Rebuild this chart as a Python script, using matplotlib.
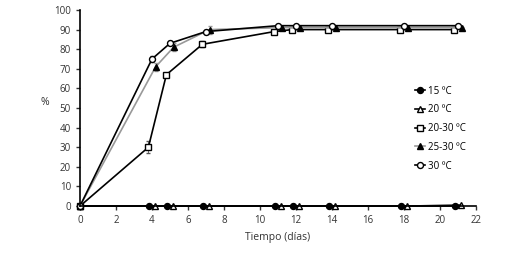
import numpy as np
import matplotlib.pyplot as plt
from matplotlib.lines import Line2D

plt.rcParams['font.family'] = ['Open Sans', 'DejaVu Sans']

days = [0, 4, 5, 7, 11, 12, 14, 18, 21]
g15 = [0, 0, 0, 0, 0, 0, 0, 0, 0]
g20 = [0, 0, 0, 0, 0, 0, 0, 0, 0.5]
g20_30 = [0, 30, 67, 82.5, 89, 90, 90, 90, 90]
g25_30 = [0, 71, 81, 90, 91, 91, 91, 91, 91]
g30 = [0, 75, 83, 89, 92, 92, 92, 92, 92]
err20_30 = [0, 3, 1, 1.5, 1, 0.5, 0.5, 0.5, 0.5]
err25_30 = [0, 2, 2, 2, 0.5, 0.5, 0.5, 0.5, 0.5]
err30 = [0, 1.5, 1, 1, 0.5, 0.5, 0.5, 0.5, 0.5]
labels = ['15 ºC', '20 ºC', '20-30 ºC', '25-30 ºC', '30 ºC']

fig = plt.figure(figsize=(5.28, 2.56), dpi=100)
ax = fig.add_axes([0.1515, 0.195, 0.75, 0.766])

d = np.array(days, dtype=float)
shift = np.where(d > 0, 1.0, 0.0)
ms = 4.3
styles = [
    dict(marker='o', color='black', mfc='black', mec='black'),
    dict(marker='^', color='black', mfc='white', mec='black'),
    dict(marker='s', color='black', mfc='white', mec='black'),
    dict(marker='^', color='#999999', mfc='black', mec='black'),
    dict(marker='o', color='black', mfc='white', mec='black'),
]

ax.errorbar(d - 0.15 * shift, g15, fmt='-', ms=ms, lw=1.2, **styles[0])
ax.errorbar(d + 0.15 * shift, g20, fmt='-', ms=ms, lw=1.2, **styles[1])
ax.errorbar(d - 0.2 * shift, g20_30, yerr=err20_30, fmt='-', ms=ms,
            lw=1.2, elinewidth=0.6, capsize=1.5, ecolor='#555555', **styles[2])
ax.errorbar(d + 0.2 * shift, g25_30, yerr=err25_30, fmt='-', ms=ms,
            lw=1.2, elinewidth=0.6, capsize=1.5, ecolor='#999999', **styles[3])
ax.errorbar(d, g30, yerr=err30, fmt='-', ms=ms,
            lw=1.2, elinewidth=0.6, capsize=1.5, ecolor='#555555', **styles[4])

ax.set_xlim(0, 22)
ax.set_ylim(0, 100)
ax.set_xticks(range(0, 23, 2))
ax.set_yticks(range(0, 101, 10))
ax.spines['top'].set_visible(False)
ax.spines['right'].set_visible(False)
ax.spines['left'].set_linewidth(1.2)
ax.spines['bottom'].set_linewidth(1.2)
ax.tick_params(labelsize=7, length=3, width=1, colors='#333333', direction='out')
ax.set_xlabel('Tiempo (días)', fontsize=7.5, color='#333333', labelpad=4)
ax.set_ylabel('%', fontsize=7.5, color='#333333', rotation=0)
ax.yaxis.set_label_coords(-0.09, 0.5)

handles = [Line2D([], [], lw=1.2, ms=ms, **s) for s in styles]
ax.legend(handles, labels, loc='center left', bbox_to_anchor=(0.825, 0.395), frameon=False,
          fontsize=7, handlelength=1.0, labelspacing=0.8, handletextpad=0.3)
for line in ax.get_lines():
    line.set_clip_on(False)

fig.savefig('out.png', dpi=100)
